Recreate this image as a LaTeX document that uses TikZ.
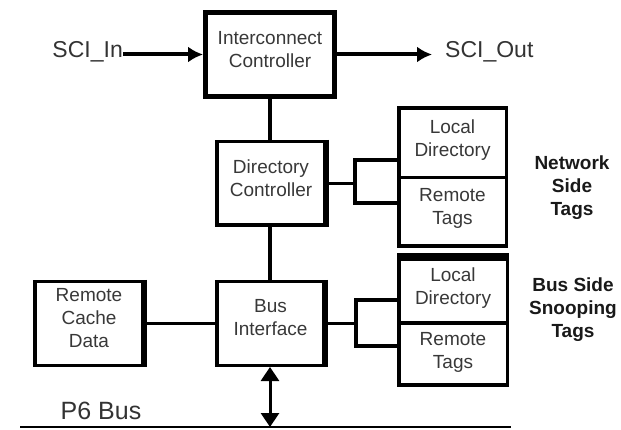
\documentclass[tikz,border=0pt]{standalone}
\usepackage{fontspec}
\setmainfont{Liberation Sans}
\usetikzlibrary{arrows.meta}

\begin{document}
\begin{tikzpicture}[x=1pt,y=-1pt,
  blk/.style={draw, line width=3.5pt, inner sep=0pt},
  lbl/.style={inner sep=0pt, align=center, text=black!78,
    font=\fontsize{19}{23}\selectfont},
  side/.style={inner sep=0pt, align=center, text=black!90,
    font=\bfseries\fontsize{19}{23}\selectfont},
  io/.style={inner sep=0pt, text=black!80, font=\fontsize{23}{26}\selectfont},
  wire/.style={line width=3.2pt},
  arm/.style={line width=4.5pt, line cap=rect},
  heavy/.style={line width=5.5pt},
  sciarrow/.style={line width=4pt, -{Latex[length=15pt,width=16pt]}},
  busarrow/.style={line width=3pt, {Triangle[length=14pt,width=18pt]}-{Triangle[length=14pt,width=18pt]}}
]
\useasboundingbox (0,0) rectangle (621,430);

% main controller column
\node[blk, line width=5pt, minimum width=129pt, minimum height=84pt] (ic) at (270,54.5) {};
\node[lbl] (ic-t) at ([yshift=4.5pt]ic.center) {Interconnect\\Controller};

\node[blk, minimum width=108.5pt, minimum height=83.5pt] (dc) at (271,183.5) {};
\node[lbl] (dc-t) at ([yshift=5pt]dc.center) {Directory\\Controller};

\node[blk, minimum width=107.5pt, minimum height=83.5pt] (bi) at (270.5,323.5) {};
\node[lbl] (bi-t) at ([yshift=6pt]bi.center) {Bus\\Interface};

\node[blk, minimum width=108.5pt, minimum height=83.5pt] (rcd) at (89,323.5) {};
\node[lbl] (rcd-t) at ([yshift=5.5pt]rcd.center) {Remote\\Cache\\Data};

% heavier right-hand edges on the lower boxes
\foreach \b in {dc,bi,rcd}
  \draw[heavy] ([xshift=-1pt]\b.north east) -- ([xshift=-1pt]\b.south east);

% network side tag stack
\node[blk, minimum width=107.5pt, minimum height=69.5pt] (nld) at (452.5,142.75) {};
\node[lbl] (nld-t) at ([yshift=3pt]nld.center) {Local\\Directory};
\node[blk, minimum width=107.5pt, minimum height=68.5pt] (nrt) at (452.5,211.75) {};
\node[lbl] (nrt-t) at ([yshift=3pt]nrt.center) {Remote\\Tags};

% bus side tag stack
\node[blk, minimum width=108.5pt, minimum height=64pt] (bld) at (453,291) {};
\node[lbl] (bld-t) at ([yshift=3pt]bld.center) {Local\\Directory};
\node[blk, minimum width=108.5pt, minimum height=62pt] (brt) at (453,354) {};
\node[lbl] (brt-t) at ([yshift=2pt]brt.center) {Remote\\Tags};
\draw[heavy] ([yshift=1pt]bld.north west) -- ([yshift=1pt]bld.north east);

% side captions
\node[side] (nst) at (572,188) {Network\\Side\\Tags};
\node[side] (bst) at (573,310) {Bus Side\\Snooping\\Tags};

% SCI ports
\node[io, anchor=east] (sciin) at (123,52) {SCI\_In};
\node[io, anchor=west] (sciout) at (445,52) {SCI\_Out};
\draw[sciarrow] (sciin.east |- ic.west) -- (ic.west);
\draw[sciarrow, shorten >=13pt] (ic.east) -- (sciout.west |- ic.east);

% vertical links
\draw[wire] (ic.south) -- (ic.south |- dc.north);
\draw[wire] (dc.south -| ic.south) -- (bi.north -| ic.south);
\draw[wire] (rcd.east) -- (bi.west);

% brackets to the tag stacks
\coordinate (nb-top) at (355,160);
\coordinate (nb-bot) at (355,203);
\draw[wire] (dc.east) -- (dc.east -| nb-top);
\draw[arm] (nld.west |- nb-top) -- (nb-top) -- (nb-bot) -- (nrt.west |- nb-bot);

\coordinate (bb-top) at (356,300);
\coordinate (bb-bot) at (356,346);
\draw[wire] (bi.east) -- (bi.east -| bb-top);
\draw[arm] (bld.west |- bb-top) -- (bb-top) -- (bb-bot) -- (brt.west |- bb-bot);

% P6 bus
\coordinate (bus-l) at (20,427);
\coordinate (bus-r) at (511,427);
\draw[line width=2.5pt] (bus-l) -- (bus-r);
\node[io, font=\fontsize{25}{28}\selectfont] (p6) at (101,411) {P6 Bus};
\draw[busarrow] (bi.south -| ic.south) -- (bus-l -| ic.south);
\end{tikzpicture}
\end{document}
